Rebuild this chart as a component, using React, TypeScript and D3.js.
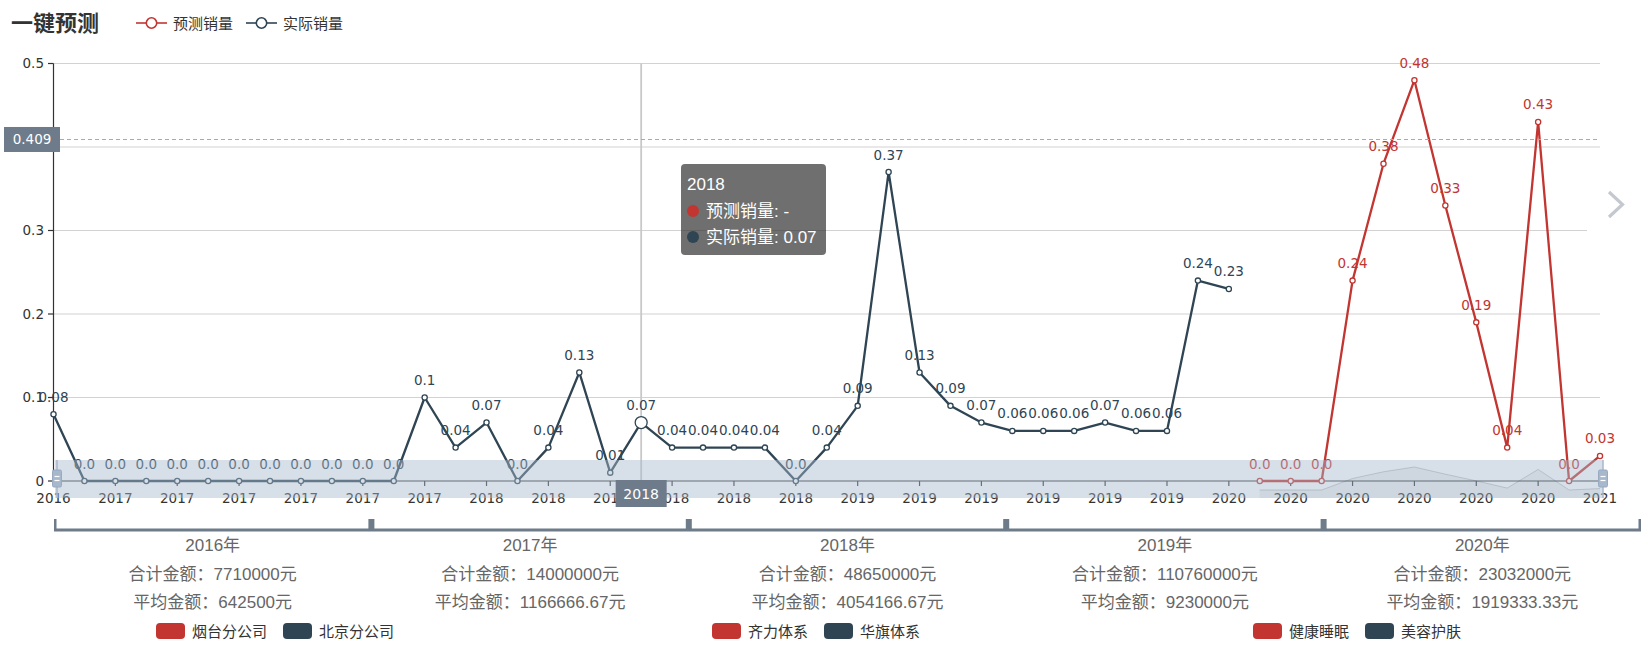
import React from "react";
import * as d3 from "d3";

// x categories (one per month, labels show the year only)
const categories = [
  "2016",
  "2017", "2017", "2017", "2017", "2017", "2017", "2017", "2017", "2017", "2017", "2017", "2017",
  "2018", "2018", "2018", "2018", "2018", "2018", "2018", "2018", "2018", "2018", "2018", "2018",
  "2019", "2019", "2019", "2019", "2019", "2019", "2019", "2019", "2019", "2019", "2019", "2019",
  "2020", "2020", "2020", "2020", "2020", "2020", "2020", "2020", "2020", "2020", "2020", "2020",
  "2021", "2021",
];

// 实际销量, from index 0
const actual = [
  0.08, 0, 0, 0, 0, 0, 0, 0, 0, 0, 0, 0, 0.1, 0.04, 0.07, 0, 0.04, 0.13, 0.01, 0.07,
  0.04, 0.04, 0.04, 0.04, 0, 0.04, 0.09, 0.37, 0.13, 0.09, 0.07, 0.06, 0.06, 0.06, 0.07,
  0.06, 0.06, 0.24, 0.23,
];

// 预测销量, starts at index 39 (earlier values are "-")
const forecastStart = 39;
const forecast = [0, 0, 0, 0.24, 0.38, 0.48, 0.33, 0.19, 0.04, 0.43, 0, 0.03];

const yTicks = [0, 0.1, 0.2, 0.3, 0.4, 0.5];

const seriesNames = ["预测销量", "实际销量"];
const seriesColors = ["#c23531", "#2f4554"];

// lower level axis
const years = ["2016年", "2017年", "2018年", "2019年", "2020年"];
const totals = ["7710000", "14000000", "48650000", "110760000", "23032000"];
const averages = ["642500", "1166666.67", "4054166.67", "9230000", "1919333.33"];
const groupLegends = [
  ["烟台分公司", "北京分公司"],
  ["齐力体系", "华旗体系"],
  ["健康睡眠", "美容护肤"],
];

// hover state in the picture
const pointerIndex = 19;
const pointerValue = 0.409;

const numFont = "'DejaVu Sans', 'Noto Sans CJK SC', sans-serif";
const textFont = "'Liberation Sans', 'Noto Sans CJK SC', sans-serif";
const cjkFont = "'Noto Sans CJK SC', sans-serif";

const fmt = (v: number) => (v === 0 ? "0.0" : String(v));

export default function App() {
  const W = 1648;
  const H = 658;
  const x = d3
    .scalePoint<number>()
    .domain(d3.range(categories.length))
    .range([53.5, 1600]);
  const y = d3.scaleLinear().domain([0, 0.5]).range([481, 63.5]);
  const line = d3
    .line<[number, number]>()
    .x((d) => x(d[0])!)
    .y((d) => y(d[1]));

  const actualPts: [number, number][] = actual.map((v, i) => [i, v]);
  const forecastPts: [number, number][] = forecast.map((v, i) => [forecastStart + i, v]);

  // dataZoom slider
  const sTop = 460;
  const sBottom = 498;
  const sLeft = x(0)! + 1.5;
  const sRight = x(categories.length - 1)! + 3;
  const shadowY = d3.scaleLinear().domain([0, d3.max(forecast)!]).range([490, 467]);
  const shadowArea = d3
    .area<[number, number]>()
    .x((d) => x(d[0])!)
    .y0(sBottom)
    .y1((d) => shadowY(d[1]));
  const shadowLine = d3
    .line<[number, number]>()
    .x((d) => x(d[0])!)
    .y((d) => shadowY(d[1]));

  // lower bracket axis
  const sec = d3.scaleBand<string>().domain(years).range([54, 1641]);
  const bracketY = 530;

  const px = x(pointerIndex)!;
  const py = y(pointerValue);

  const renderLabels = (pts: [number, number][], color: string) =>
    pts.map(([i, v]) => (
      <text
        key={"l" + i}
        x={x(i)}
        y={y(v) - 12.5}
        textAnchor="middle"
        fontSize={13.5}
        fontFamily={numFont}
        fill={color}
      >
        {fmt(v)}
      </text>
    ));

  const renderSymbols = (pts: [number, number][], color: string) =>
    pts.map(([i, v]) => (
      <circle
        key={"c" + i}
        cx={x(i)}
        cy={y(v)}
        r={2.6}
        fill="#fff"
        stroke={color}
        strokeWidth={1.3}
      />
    ));

  // top legend
  const topLegendX = [136, 246];

  // bottom legends
  const groupLeft = [156, 712, 1253];

  return (
    <svg
      width={W}
      height={H}
      style={{ position: "fixed", left: 0, top: 0, background: "#fff" }}
    >
      <text x={11} y={31} fontSize={22} fontWeight="bold" fontFamily={cjkFont} fill="#333">
        一键预测
      </text>

      {seriesNames.map((name, k) => (
        <g key={name} transform={`translate(${topLegendX[k]},23)`}>
          <line x1={0} x2={31} y1={0} y2={0} stroke={seriesColors[k]} strokeWidth={1.6} />
          <circle cx={15.5} cy={0} r={5.2} fill="#fff" stroke={seriesColors[k]} strokeWidth={1.6} />
          <text x={37} y={5.5} fontSize={15} fontFamily={cjkFont} fill="#333">
            {name}
          </text>
        </g>
      ))}

      {/* grid lines */}
      {yTicks
        .filter((t) => t > 0)
        .map((t) => (
          <line key={t} x1={x(0)} x2={1600} y1={y(t)} y2={y(t)} stroke="#d2d2d2" strokeWidth={1.2} />
        ))}

      {/* y axis */}
      <line x1={x(0)} x2={x(0)} y1={y(0.5)} y2={y(0)} stroke="#333" strokeWidth={1.2} />
      {yTicks.map((t) => (
        <g key={"yt" + t}>
          <line x1={x(0)! - 5.5} x2={x(0)} y1={y(t)} y2={y(t)} stroke="#333" strokeWidth={1.2} />
          {Math.abs(y(t) - py) > 12.5 ? (
            <text
              x={44}
              y={y(t) + 4.5}
              textAnchor="end"
              fontSize={13.5}
              fontFamily={numFont}
              fill="#333"
            >
              {t === 0 ? "0" : String(t)}
            </text>
          ) : null}
        </g>
      ))}

      {/* x axis */}
      <line x1={x(0)} x2={1600} y1={y(0)} y2={y(0)} stroke="#333" strokeWidth={1.2} />
      {categories.map((c, i) =>
        i % 2 === 0 ? (
          <g key={"xt" + i}>
            <line x1={x(i)} x2={x(i)} y1={y(0)} y2={y(0) + 5} stroke="#333" strokeWidth={1.2} />
            <text
              x={x(i)}
              y={503}
              textAnchor="middle"
              fontSize={13.5}
              fontFamily={numFont}
              fill="#333"
            >
              {c}
            </text>
          </g>
        ) : null
      )}

      {/* vertical axis pointer */}
      <line x1={px} x2={px} y1={y(0.5)} y2={y(0)} stroke="#c8c8c8" strokeWidth={1.8} />

      {/* series */}
      <path d={line(actualPts)!} fill="none" stroke={seriesColors[1]} strokeWidth={2.3} strokeLinejoin="round" />
      <path d={line(forecastPts)!} fill="none" stroke={seriesColors[0]} strokeWidth={2.3} strokeLinejoin="round" />
      {renderSymbols(actualPts, seriesColors[1])}
      {renderSymbols(forecastPts, seriesColors[0])}
      <circle cx={px} cy={y(actual[pointerIndex])} r={6} fill="#fff" stroke={seriesColors[1]} strokeWidth={1.3} />
      {renderLabels(actualPts, seriesColors[1])}
      {renderLabels(forecastPts, seriesColors[0])}

      {/* slider */}
      <rect x={sLeft} y={sTop} width={sRight - sLeft} height={sBottom - sTop} fill="rgba(167,183,204,0.45)" />
      <path d={shadowArea(forecastPts)!} fill="rgba(47,69,84,0.05)" />
      <path d={shadowLine(forecastPts)!} fill="none" stroke="rgba(47,69,84,0.18)" strokeWidth={1} />
      {[sLeft + 2, sRight].map((hx, k) => (
        <g key={"h" + k}>
          <line x1={hx} x2={hx} y1={sTop} y2={sBottom} stroke="#a7b7cc" strokeWidth={1.5} />
          <rect x={hx - 4.5} y={470} width={9} height={17} rx={1.5} fill="#a7b7cc" stroke="#98a9c0" />
          <line x1={hx - 2.5} x2={hx + 2.5} y1={476.5} y2={476.5} stroke="#fff" strokeWidth={1.2} />
          <line x1={hx - 2.5} x2={hx + 2.5} y1={480.5} y2={480.5} stroke="#fff" strokeWidth={1.2} />
        </g>
      ))}

      {/* horizontal axis pointer */}
      <line x1={60} x2={1600} y1={py} y2={py} stroke="#aaa" strokeWidth={1.2} strokeDasharray="4,3" />
      <rect x={4} y={py - 12.5} width={56} height={25} fill="#6e7b8a" />
      <text x={32} y={py + 5} textAnchor="middle" fontSize={13.5} fontFamily={numFont} fill="#fff">
        {String(pointerValue)}
      </text>
      <rect x={px - 25.5} y={480} width={51} height={27} fill="#6e7b8a" />
      <text x={px} y={499} textAnchor="middle" fontSize={14} fontFamily={numFont} fill="#fff">
        {categories[pointerIndex]}
      </text>

      {/* next-page chevron */}
      <rect x={1587} y={215} width={61} height={30} fill="#fff" />
      <path d="M1609,192 L1622.5,204.5 L1609,217" fill="none" stroke="#c4c8cf" strokeWidth={3.2} />

      {/* tooltip */}
      <g>
        <rect x={681} y={164} width={145} height={91} rx={4} fill="rgba(50,50,50,0.7)" />
        <text x={687} y={190} fontSize={17} fontFamily={textFont} fill="#fff">
          {categories[pointerIndex]}
        </text>
        <circle cx={693} cy={211} r={6} fill={seriesColors[0]} />
        <text x={706} y={217} fontSize={17} fontFamily={textFont} fill="#fff">
          {seriesNames[0]}: -
        </text>
        <circle cx={693} cy={237} r={6} fill={seriesColors[1]} />
        <text x={706} y={243} fontSize={17} fontFamily={textFont} fill="#fff">
          {seriesNames[1]}: {fmt(actual[pointerIndex])}
        </text>
      </g>

      {/* lower bracket axis */}
      <line x1={sec.range()[0]} x2={sec.range()[1]} y1={bracketY} y2={bracketY} stroke="#6e7b88" strokeWidth={3} />
      {years.map((yr, k) => (
        <rect
          key={"bt" + k}
          x={k === 0 ? sec(yr)! : sec(yr)! - 3}
          y={bracketY - 11}
          width={k === 0 ? 2.5 : 6}
          height={11}
          fill="#6e7b88"
        />
      ))}
      <rect x={sec.range()[1] - 2.5} y={bracketY - 11} width={2.5} height={11} fill="#6e7b88" />
      {years.map((yr, k) => {
        const cx = sec(yr)! + sec.bandwidth() / 2;
        return (
          <g key={"yl" + k} fontSize={17} fontFamily={textFont} fill="#666" textAnchor="middle">
            <text x={cx} y={551}>{yr}</text>
            <text x={cx} y={580}>合计金额：{totals[k]}元</text>
            <text x={cx} y={608}>平均金额：{averages[k]}元</text>
          </g>
        );
      })}

      {/* bottom legends */}
      {groupLegends.map((items, g) => {
        let cur = groupLeft[g];
        return (
          <g key={"gl" + g}>
            {items.map((name, k) => {
              const x0 = cur;
              cur = x0 + 36 + name.length * 15 + 16;
              return (
                <g key={name}>
                  <rect x={x0} y={623} width={29} height={16} rx={4} fill={seriesColors[k]} />
                  <text x={x0 + 36} y={636.5} fontSize={15} fontFamily={cjkFont} fill="#333">
                    {name}
                  </text>
                </g>
              );
            })}
          </g>
        );
      })}
    </svg>
  );
}
